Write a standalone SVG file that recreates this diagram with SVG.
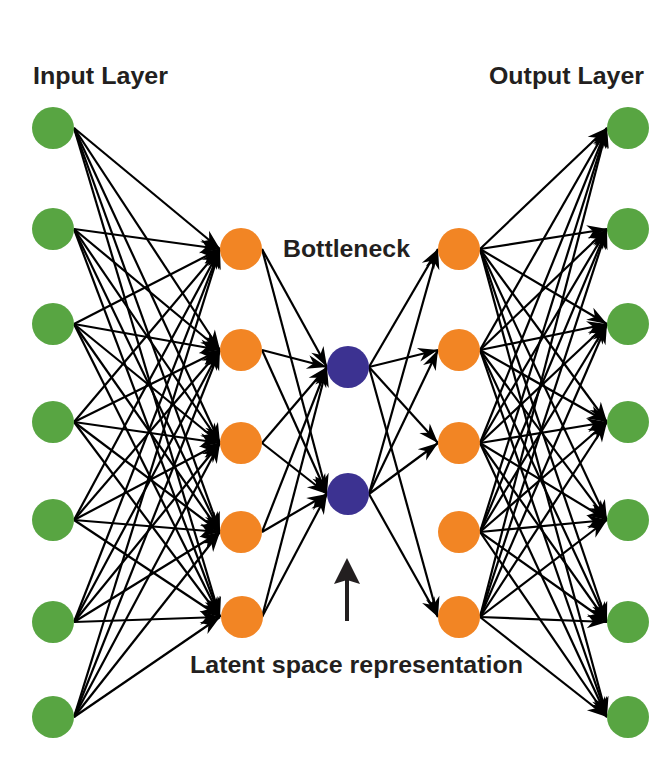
<svg xmlns="http://www.w3.org/2000/svg" width="670" height="780" viewBox="0 0 670 780">
<style>
.c line{stroke:#000;stroke-width:2.2;marker-end:url(#ah)}
.in circle,.out circle{fill:#58A542}
.hid circle{fill:#F28524}
.bn circle{fill:#3C3291}
text{font-family:"Liberation Sans",Arial,sans-serif;font-weight:bold;fill:#231F20}
</style>
<defs>
<marker id="ah" markerUnits="userSpaceOnUse" viewBox="-21 -8 22 16" refX="0" refY="0" markerWidth="22" markerHeight="16" orient="auto">
<path d="M0,0 L-20,-7 L-14,0 L-20,7 Z" fill="#000"/>
</marker>
</defs>
<rect width="670" height="780" fill="#fff"/>
<g id="labels">
<text x="33" y="84" font-size="24.5" textLength="135" lengthAdjust="spacingAndGlyphs">Input Layer</text>
<text x="489" y="84" font-size="24.5" textLength="155" lengthAdjust="spacingAndGlyphs">Output Layer</text>
<text x="283" y="257" font-size="23" textLength="127" lengthAdjust="spacingAndGlyphs">Bottleneck</text>
<text x="190" y="673" font-size="23.5" textLength="333" lengthAdjust="spacingAndGlyphs">Latent space representation</text>
</g>
<g id="latent-arrow">
<line x1="347" y1="621" x2="347" y2="578" stroke="#231F20" stroke-width="4"/>
<path d="M347,558 L360,584 L347,580 L334,584 Z" fill="#231F20"/>
</g>
<g id="connectors" class="c">
<line x1="74" y1="128" x2="220" y2="249"/><line x1="74" y1="128" x2="220" y2="350"/><line x1="74" y1="128" x2="220" y2="443"/><line x1="74" y1="128" x2="220" y2="532"/><line x1="74" y1="128" x2="220" y2="617"/>
<line x1="74" y1="229" x2="220" y2="249"/><line x1="74" y1="229" x2="220" y2="350"/><line x1="74" y1="229" x2="220" y2="443"/><line x1="74" y1="229" x2="220" y2="532"/><line x1="74" y1="229" x2="220" y2="617"/>
<line x1="74" y1="324" x2="220" y2="249"/><line x1="74" y1="324" x2="220" y2="350"/><line x1="74" y1="324" x2="220" y2="443"/><line x1="74" y1="324" x2="220" y2="532"/><line x1="74" y1="324" x2="220" y2="617"/>
<line x1="74" y1="422" x2="220" y2="249"/><line x1="74" y1="422" x2="220" y2="350"/><line x1="74" y1="422" x2="220" y2="443"/><line x1="74" y1="422" x2="220" y2="532"/><line x1="74" y1="422" x2="220" y2="617"/>
<line x1="74" y1="520" x2="220" y2="249"/><line x1="74" y1="520" x2="220" y2="350"/><line x1="74" y1="520" x2="220" y2="443"/><line x1="74" y1="520" x2="220" y2="532"/><line x1="74" y1="520" x2="220" y2="617"/>
<line x1="74" y1="622" x2="220" y2="249"/><line x1="74" y1="622" x2="220" y2="350"/><line x1="74" y1="622" x2="220" y2="443"/><line x1="74" y1="622" x2="220" y2="532"/><line x1="74" y1="622" x2="220" y2="617"/>
<line x1="74" y1="717" x2="220" y2="249"/><line x1="74" y1="717" x2="220" y2="350"/><line x1="74" y1="717" x2="220" y2="443"/><line x1="74" y1="717" x2="220" y2="532"/><line x1="74" y1="717" x2="220" y2="617"/>
<line x1="262" y1="249" x2="327" y2="367"/><line x1="262" y1="249" x2="327" y2="494"/>
<line x1="262" y1="350" x2="327" y2="367"/><line x1="262" y1="350" x2="327" y2="494"/>
<line x1="262" y1="443" x2="327" y2="367"/><line x1="262" y1="443" x2="327" y2="494"/>
<line x1="262" y1="532" x2="327" y2="367"/><line x1="262" y1="532" x2="327" y2="494"/>
<line x1="262" y1="617" x2="327" y2="367"/><line x1="262" y1="617" x2="327" y2="494"/>
<line x1="369" y1="367" x2="438" y2="249"/><line x1="369" y1="367" x2="438" y2="350"/><line x1="369" y1="367" x2="438" y2="443"/><line x1="369" y1="367" x2="438" y2="617"/>
<line x1="369" y1="494" x2="438" y2="249"/><line x1="369" y1="494" x2="438" y2="350"/><line x1="369" y1="494" x2="438" y2="443"/><line x1="369" y1="494" x2="438" y2="617"/>
<line x1="480" y1="249" x2="607" y2="128"/><line x1="480" y1="249" x2="607" y2="229"/><line x1="480" y1="249" x2="607" y2="324"/><line x1="480" y1="249" x2="607" y2="422"/><line x1="480" y1="249" x2="607" y2="520"/><line x1="480" y1="249" x2="607" y2="622"/><line x1="480" y1="249" x2="607" y2="717"/>
<line x1="480" y1="350" x2="607" y2="128"/><line x1="480" y1="350" x2="607" y2="229"/><line x1="480" y1="350" x2="607" y2="324"/><line x1="480" y1="350" x2="607" y2="422"/><line x1="480" y1="350" x2="607" y2="520"/><line x1="480" y1="350" x2="607" y2="622"/><line x1="480" y1="350" x2="607" y2="717"/>
<line x1="480" y1="443" x2="607" y2="128"/><line x1="480" y1="443" x2="607" y2="229"/><line x1="480" y1="443" x2="607" y2="324"/><line x1="480" y1="443" x2="607" y2="422"/><line x1="480" y1="443" x2="607" y2="520"/><line x1="480" y1="443" x2="607" y2="622"/><line x1="480" y1="443" x2="607" y2="717"/>
<line x1="480" y1="532" x2="607" y2="128"/><line x1="480" y1="532" x2="607" y2="229"/><line x1="480" y1="532" x2="607" y2="324"/><line x1="480" y1="532" x2="607" y2="422"/><line x1="480" y1="532" x2="607" y2="520"/><line x1="480" y1="532" x2="607" y2="622"/><line x1="480" y1="532" x2="607" y2="717"/>
<line x1="480" y1="617" x2="607" y2="128"/><line x1="480" y1="617" x2="607" y2="229"/><line x1="480" y1="617" x2="607" y2="324"/><line x1="480" y1="617" x2="607" y2="422"/><line x1="480" y1="617" x2="607" y2="520"/><line x1="480" y1="617" x2="607" y2="622"/><line x1="480" y1="617" x2="607" y2="717"/>
</g>
<g class="in">
<g id="in1"><circle cx="53" cy="128" r="21"/></g>
<g id="in2"><circle cx="53" cy="229" r="21"/></g>
<g id="in3"><circle cx="53" cy="324" r="21"/></g>
<g id="in4"><circle cx="53" cy="422" r="21"/></g>
<g id="in5"><circle cx="53" cy="520" r="21"/></g>
<g id="in6"><circle cx="53" cy="622" r="21"/></g>
<g id="in7"><circle cx="53" cy="717" r="21"/></g>
</g>
<g class="hid">
<g id="enc1"><circle cx="241" cy="249" r="21"/></g>
<g id="enc2"><circle cx="241" cy="350" r="21"/></g>
<g id="enc3"><circle cx="241" cy="443" r="21"/></g>
<g id="enc4"><circle cx="241" cy="532" r="21"/></g>
<g id="enc5"><circle cx="242" cy="617" r="21"/></g>
<g id="dec1"><circle cx="459" cy="249" r="21"/></g>
<g id="dec2"><circle cx="459" cy="350" r="21"/></g>
<g id="dec3"><circle cx="459" cy="443" r="21"/></g>
<g id="dec4"><circle cx="459" cy="532" r="21"/></g>
<g id="dec5"><circle cx="459" cy="617" r="21"/></g>
</g>
<g class="bn">
<g id="z1"><circle cx="348" cy="367" r="21"/></g>
<g id="z2"><circle cx="348" cy="494" r="21"/></g>
</g>
<g class="out">
<g id="out1"><circle cx="628" cy="128" r="21"/></g>
<g id="out2"><circle cx="628" cy="229" r="21"/></g>
<g id="out3"><circle cx="628" cy="324" r="21"/></g>
<g id="out4"><circle cx="628" cy="422" r="21"/></g>
<g id="out5"><circle cx="628" cy="520" r="21"/></g>
<g id="out6"><circle cx="628" cy="622" r="21"/></g>
<g id="out7"><circle cx="628" cy="717" r="21"/></g>
</g>
</svg>
